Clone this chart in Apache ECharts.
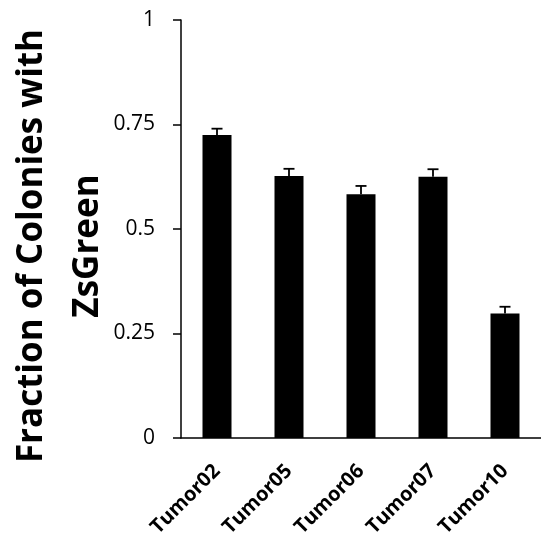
<!DOCTYPE html>
<html>
<head>
<meta charset="utf-8">
<script src="https://cdn.jsdelivr.net/npm/echarts@6/dist/echarts.min.js"></script>
<style>
html, body { margin: 0; padding: 0; background: #fff; }
#chart { width: 541px; height: 542px; }
</style>
</head>
<body>
<div id="chart"></div>
<script>
var categories = ['Tumor02', 'Tumor05', 'Tumor06', 'Tumor07', 'Tumor10'];
var fractions = [0.725, 0.627, 0.583, 0.625, 0.298];
var errors = [0.015, 0.017, 0.02, 0.018, 0.016];
var yTicks = [0, 0.25, 0.5, 0.75, 1];

var chart = echarts.init(document.getElementById('chart'));

var errData = categories.map(function (c, i) {
    return [i, fractions[i], fractions[i] + errors[i]];
});

var option = {
    animation: false,
    grid: { left: 181, top: 20, bottom: 104, right: -8 },
    graphic: [{
        type: 'text',
        x: 60,
        y: 246,
        rotation: Math.PI / 2,
        style: {
            text: 'Fraction of Colonies with\nZsGreen',
            align: 'center',
            verticalAlign: 'middle',
            fontFamily: 'Open Sans',
            fontWeight: 'bold',
            fontSize: 35,
            lineHeight: 56,
            fill: '#000'
        }
    }],
    xAxis: {
        type: 'category',
        data: categories,
        axisLine: { lineStyle: { color: '#000', width: 1.5 } },
        axisTick: { length: 8, lineStyle: { color: '#000', width: 1.5 } },
        axisLabel: {
            rotate: 45,
            margin: 30,
            color: '#000',
            fontFamily: 'Open Sans',
            fontWeight: 'bold',
            fontSize: 20
        }
    },
    yAxis: {
        type: 'value',
        min: 0,
        max: 1,
        interval: 0.25,
        splitLine: { show: false },
        axisLine: { show: true, lineStyle: { color: '#000', width: 1.5 } },
        axisTick: { show: true, length: 8, lineStyle: { color: '#000', width: 1.5 } },
        axisLabel: {
            margin: 26,
            color: '#000',
            fontFamily: 'Open Sans',
            fontSize: 21,
            formatter: function (v) {
                return yTicks.indexOf(v) >= 0 ? String(v) : '';
            }
        }
    },
    series: [{
        type: 'bar',
        data: fractions,
        barWidth: 29,
        itemStyle: { color: '#000' }
    }, {
        type: 'custom',
        data: errData,
        z: 3,
        renderItem: function (params, api) {
            var base = api.coord([api.value(0), api.value(1)]);
            var top = api.coord([api.value(0), api.value(2)]);
            var hw = 5.5;
            var st = { stroke: '#000', lineWidth: 1.8 };
            return {
                type: 'group',
                children: [
                    { type: 'line', shape: { x1: base[0], y1: base[1], x2: top[0], y2: top[1] }, style: st },
                    { type: 'line', shape: { x1: top[0] - hw, y1: top[1], x2: top[0] + hw, y2: top[1] }, style: st }
                ]
            };
        }
    }]
};

chart.setOption(option);
</script>
</body>
</html>
